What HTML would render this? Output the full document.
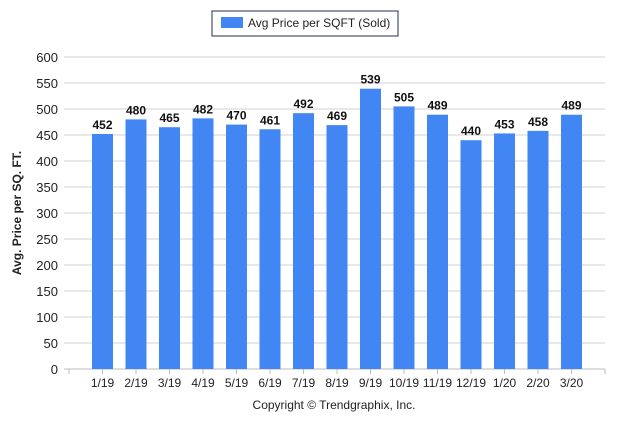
<!DOCTYPE html>
<html><head><meta charset="utf-8"><style>
body{margin:0;background:#fff;}
svg text{font-family:"Liberation Sans",sans-serif;}
</style></head><body>
<svg width="623" height="419">
<g>
<rect x="212" y="11" width="186" height="25" fill="#fff" stroke="#1f3050" stroke-width="1"/>
<rect x="221" y="17" width="22" height="11" fill="#4286f4"/>
<text x="248" y="27" font-size="12" fill="#222">Avg Price per SQFT (Sold)</text>
</g>
<g id="grid"></g><g id="bars"></g><g id="axes"></g>
<text transform="translate(21,213) rotate(-90)" text-anchor="middle" font-size="12" font-weight="bold" fill="#222">Avg. Price per SQ. FT.</text>
<text x="334" y="409" text-anchor="middle" font-size="12" fill="#222">Copyright © Trendgraphix, Inc.</text>
</svg>
<script>
const categories=["1/19","2/19","3/19","4/19","5/19","6/19","7/19","8/19","9/19","10/19","11/19","12/19","1/20","2/20","3/20"];
const values=[452,480,465,482,470,461,492,469,539,505,489,440,453,458,489];
const yTicks=[0,50,100,150,200,250,300,350,400,450,500,550,600];
const NS="http://www.w3.org/2000/svg";
const x0=69,x1=605,y0=369,y1=57,yMax=600;
const band=(x1-x0)/(categories.length+1);
const y=v=>y0-(v/yMax)*(y0-y1);
const xc=i=>x0+(i+1)*band;
function mk(t,a,p){const e=document.createElementNS(NS,t);for(const k in a)e.setAttribute(k,a[k]);p.appendChild(e);return e;}
const grid=document.getElementById('grid'),bars=document.getElementById('bars'),axes=document.getElementById('axes');
yTicks.forEach(t=>{
 const l=mk('line',{x1:64,x2:x1,y1:y(t),y2:y(t),stroke:t===0?'#bbb':'#d0d0d0','stroke-width':1},grid);
 
 
 const tx=mk('text',{x:58,y:y(t)+5,'text-anchor':'end','font-size':13,fill:'#222'},grid);
 tx.textContent=t;
 
 
});
for(let i=0;i<=categories.length+1;i+=categories.length+1){
 const tk=mk('line',{x1:x0+i*band,x2:x0+i*band,y1:y0,y2:y0+5,stroke:'#bbb'},axes);
 
 
}
categories.forEach((c,i)=>{
 const bw=21;
 const r=mk('rect',{x:xc(i)-bw/2,y:y(values[i]),width:bw,height:y0-y(values[i]),fill:'#4286f4'},bars);
 
 
 const v=mk('text',{x:xc(i),y:y(values[i])-5,'text-anchor':'middle','font-size':12,'font-weight':'bold',fill:'#111'},bars);
 v.textContent=values[i];
 
 
 const tk=mk('line',{x1:xc(i),x2:xc(i),y1:y0,y2:y0+5,stroke:'#bbb'},axes);
 
 
 const lb=mk('text',{x:xc(i),y:y0+18,'text-anchor':'middle','font-size':12,fill:'#222'},axes);
 lb.textContent=c;
 
 
});
</script>
</body></html>
